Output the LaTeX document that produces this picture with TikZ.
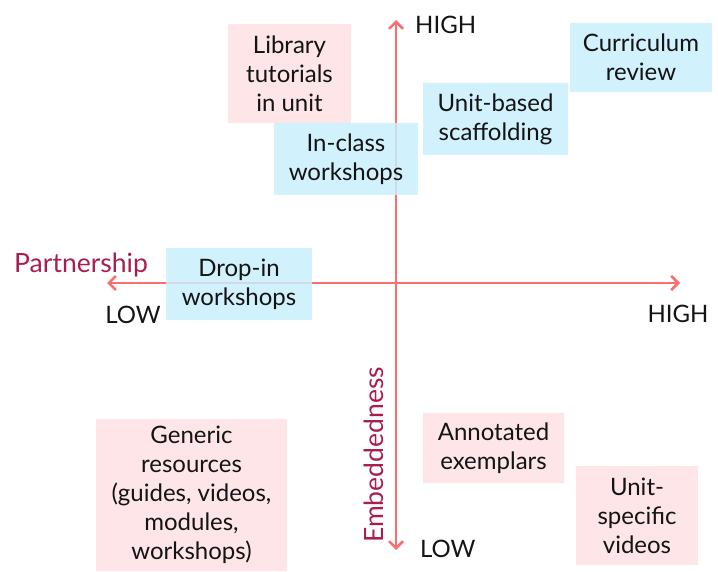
\documentclass[tikz,border=0pt]{standalone}
\usepackage{fontspec}
\setmainfont{Lato}
\usetikzlibrary{arrows.meta}
\definecolor{pinkbox}{RGB}{253,225,228}
\definecolor{bluebox}{RGB}{201,238,252}
\definecolor{axisred}{RGB}{250,110,110}
\definecolor{labelred}{RGB}{168,30,80}
\definecolor{txt}{RGB}{20,20,20}
\begin{document}
\begin{tikzpicture}[x=1pt,y=-1pt,
  every node/.style={font=\fontsize{24}{29}\selectfont, text=txt},
  box/.style={rectangle, inner sep=0pt, fill opacity=0.85, text opacity=1, align=center},
  pinkb/.style={box, fill=pinkbox},
  blueb/.style={box, fill=bluebox},
  axis/.style={draw=axisred, line width=2.6pt, -{Straight Barb[length=7pt,width=14pt,line width=2.6pt]}},
  axlabel/.style={inner sep=0pt},
  namelabel/.style={inner sep=0pt, text=labelred, font=\fontsize{26.5}{30}\selectfont}
]
\useasboundingbox (0,0) rectangle (718,572);
\coordinate (vbot) at (396,550);
\coordinate (vtop) at (396,20);
\coordinate (hleft) at (107,283);
\coordinate (hright) at (680,283);
\coordinate (orig) at (396,283);
\draw[axis] (orig) -- (vtop);
\draw[axis] (orig) -- (vbot);
\draw[axis] (orig) -- (hleft);
\draw[axis] (orig) -- (hright);

\node[axlabel, anchor=west] (vhigh) at (415,25) {HIGH};
\node[axlabel, anchor=west] (vlow) at (420,549) {LOW};
\node[axlabel] (hhigh) at (678,314) {HIGH};
\node[axlabel] (hlow) at (133,315) {LOW};
\node[namelabel, anchor=west] (partner) at (14,265) {Partnership};
\node[namelabel, rotate=90] (embed) at (374,455) {Embeddedness};

\node[pinkb, minimum width=123pt, minimum height=99pt] (lib) at (289.5,73.5) {Library\\tutorials\\in unit};
\node[blueb, minimum width=144pt, minimum height=72pt] (inclass) at (346,159) {In-class\\workshops};
\node[blueb, minimum width=145pt, minimum height=72pt] (unitbased) at (495.5,119) {Unit-based\\scaffolding};
\node[blueb, minimum width=142pt, minimum height=69pt] (curric) at (641,57.5) {Curriculum\\review};
\node[blueb, minimum width=146pt, minimum height=72pt] (dropin) at (239,284) {Drop-in\\workshops};
\node[pinkb, minimum width=191pt, minimum height=152pt] (generic) at (191.5,495) {Generic\\resources\\(guides, videos,\\modules,\\workshops)};
\node[pinkb, minimum width=141pt, minimum height=70pt] (annot) at (493.5,448) {Annotated\\exemplars};
\node[pinkb, minimum width=122pt, minimum height=99pt] (unitspec) at (637,515.5) {Unit-\\specific\\videos};
\end{tikzpicture}
\end{document}
